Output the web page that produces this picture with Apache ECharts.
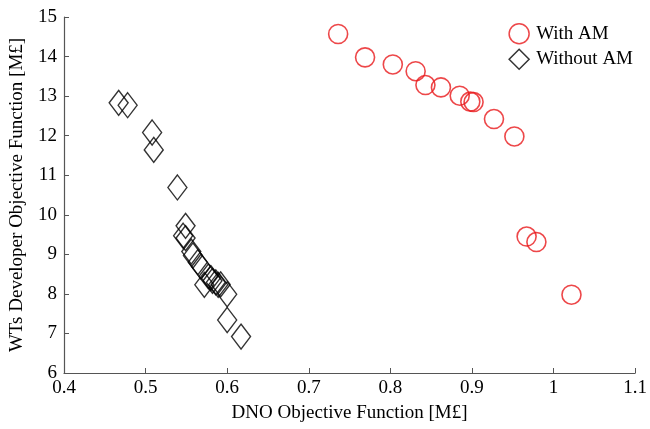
<!DOCTYPE html>
<html>
<head>
<meta charset="utf-8">
<script src="https://cdn.jsdelivr.net/npm/echarts@6/dist/echarts.min.js"></script>
<style>
  html, body { margin: 0; padding: 0; background: #fff; }
  #chart { width: 650px; height: 429px; }
</style>
</head>
<body>
<div id="chart"></div>
<script>
// values: [DNO, WTs developer]
var withAM = [
    [0.736, 14.57], [0.769, 13.98], [0.803, 13.80], [0.831, 13.63],
    [0.843, 13.28], [0.862, 13.22], [0.885, 13.01], [0.898, 12.86],
    [0.902, 12.85], [0.927, 12.42], [0.952, 11.98], [0.967, 9.45],
    [0.979, 9.31], [1.022, 7.98]
];
var withoutAM = [
    [0.467, 12.83], [0.478, 12.77], [0.508, 12.08], [0.510, 11.64],
    [0.539, 10.69], [0.549, 9.72], [0.546, 9.47], [0.549, 9.41],
    [0.556, 9.07], [0.558, 8.97], [0.564, 8.80], [0.568, 8.69],
    [0.572, 8.23], [0.577, 8.44], [0.580, 8.40], [0.582, 8.33],
    [0.586, 8.29], [0.589, 8.23], [0.592, 8.24], [0.600, 7.99],
    [0.600, 7.34], [0.617, 6.92]
];
var seriesNames = ['With AM', 'Without AM'];

var font = 'Liberation Serif';
var axisColor = '#555';

var chart = echarts.init(document.getElementById('chart'));
chart.setOption({
    backgroundColor: '#fff',
    animation: false,
    grid: { left: 64, right: 12, top: 17, bottom: 56 },
    legend: {
        data: seriesNames,
        orient: 'vertical',
        right: 12,
        top: 18,
        itemWidth: 20,
        itemHeight: 20,
        itemGap: 4,
        itemStyle: { borderWidth: 1.5 },
        textStyle: { fontFamily: font, fontSize: 19, color: '#000', padding: [0, 0, 0, 2] }
    },
    xAxis: {
        type: 'value',
        min: 0.4,
        max: 1.1,
        interval: 0.1,
        name: 'DNO Objective Function [M£]',
        nameLocation: 'middle',
        nameGap: 31,
        nameTextStyle: { fontFamily: font, fontSize: 19, color: '#000' },
        axisLine: { onZero: false, lineStyle: { color: axisColor, width: 1.2 } },
        axisTick: { inside: true, length: 5, lineStyle: { color: axisColor } },
        axisLabel: {
            fontFamily: font, fontSize: 19, color: '#000', margin: 6,
            formatter: function (v) { return +v.toFixed(1) + ''; }
        },
        splitLine: { show: false }
    },
    yAxis: {
        type: 'value',
        min: 6,
        max: 15,
        interval: 1,
        name: 'WTs Developer Objective Function [M£]',
        nameLocation: 'middle',
        nameGap: 37,
        nameTextStyle: { fontFamily: font, fontSize: 19, color: '#000' },
        axisLine: { show: true, onZero: false, lineStyle: { color: axisColor, width: 1.2 } },
        axisTick: { show: true, inside: true, length: 5, lineStyle: { color: axisColor } },
        axisLabel: { fontFamily: font, fontSize: 19, color: '#000', margin: 7 },
        splitLine: { show: false }
    },
    series: [
        {
            name: seriesNames[0],
            type: 'scatter',
            data: withAM,
            symbol: 'circle',
            symbolSize: 19,
            itemStyle: { color: 'rgba(0,0,0,0)', borderColor: '#e8191c', borderWidth: 1.6 }
        },
        {
            name: seriesNames[1],
            type: 'scatter',
            data: withoutAM,
            symbol: 'diamond',
            symbolSize: [19, 25],
            itemStyle: { color: 'rgba(0,0,0,0)', borderColor: '#000', borderWidth: 1.4 }
        }
    ]
});
</script>
</body>
</html>
